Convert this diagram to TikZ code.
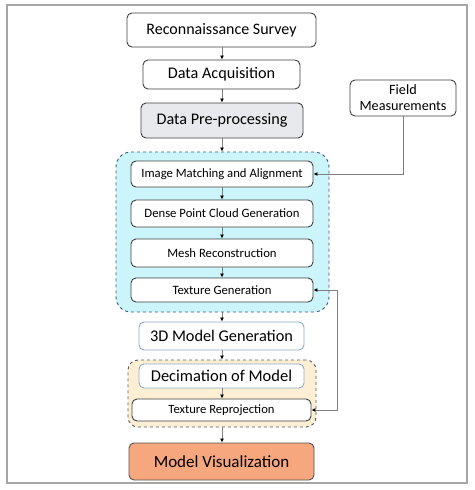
\documentclass[tikz,border=0pt]{standalone}
\usepackage{fontspec}
\setmainfont{Carlito}
\usetikzlibrary{arrows.meta}
\definecolor{framec}{HTML}{A6A6A6}
\definecolor{boxline}{HTML}{404040}
\definecolor{bluebox}{HTML}{8EA9C8}
\definecolor{prefill}{HTML}{E7E9EC}
\definecolor{cyanfill}{HTML}{CBF4FB}
\definecolor{cyanline}{HTML}{3C5A78}
\definecolor{yelfill}{HTML}{FDEFD3}
\definecolor{yelline}{HTML}{5A5A5A}
\definecolor{vizfill}{HTML}{F7A77E}
\definecolor{arrc}{HTML}{7F7F7F}
\tikzset{
  box/.style={draw=boxline, line width=0.9pt, rounded corners=5pt, fill=white, inner sep=0pt, align=center},
  bbox/.style={box, draw=bluebox},
  grp/.style={draw, dashed, line width=0.9pt, rounded corners=15pt, inner sep=0pt},
  arr/.style={draw=arrc, line width=0.8pt, -{Latex[length=4pt,width=4pt,color=black]}},
  darr/.style={draw=arrc, line width=0.8pt, {Latex[length=4pt,width=4pt,color=black]}-{Latex[length=4pt,width=4pt,color=black]}}
}
\begin{document}
\begin{tikzpicture}[x=1pt,y=-1pt]
\useasboundingbox (0,0) rectangle (474,490);
\fill[white] (0,0) rectangle (474,490);
\draw[framec, line width=1.2pt] (7,5) rectangle (467,483);
% groups
\node[grp, draw=cyanline, fill=cyanfill, minimum width=213pt, minimum height=160pt] (g1) at (222.5,232) {};
\node[grp, draw=yelline, fill=yelfill, rounded corners=10pt, minimum width=188pt, minimum height=67pt] (g2) at (222,393.5) {};
% boxes
\node[box, minimum width=189pt, minimum height=34pt, font=\fontsize{16}{18}\selectfont] (rs) at (221.5,30) {Reconnaissance Survey};
\node[box, minimum width=157pt, minimum height=29pt, font=\fontsize{16.2}{18}\selectfont] (da) at (221.5,74.5) {Data Acquisition};
\node[box, fill=prefill, minimum width=162pt, minimum height=35pt, font=\fontsize{16.2}{18}\selectfont] (dp) at (222,120.5) {Data Pre-processing};
\node[box, minimum width=106pt, minimum height=36pt, font=\fontsize{14.2}{16}\selectfont] (fm) at (403,98) {Field\\Measurements};
\node[box, minimum width=182pt, minimum height=26pt, font=\fontsize{12.7}{14}\selectfont] (im) at (222,174) {Image Matching and Alignment};
\node[box, minimum width=182pt, minimum height=27pt, font=\fontsize{12.7}{14}\selectfont] (dpc) at (222,213.5) {Dense Point Cloud Generation};
\node[box, minimum width=182pt, minimum height=28pt, font=\fontsize{12.7}{14}\selectfont] (mr) at (222,253) {Mesh Reconstruction};
\node[box, minimum width=182pt, minimum height=24pt, font=\fontsize{12.7}{14}\selectfont] (tg) at (222,290) {Texture Generation};
\node[bbox, minimum width=165pt, minimum height=28pt, font=\fontsize{16.3}{18}\selectfont] (m3) at (221.5,336) {3D Model Generation};
\node[bbox, minimum width=165pt, minimum height=24pt, font=\fontsize{16.5}{18}\selectfont] (dm) at (221.5,376) {Decimation of Model};
\node[box, minimum width=179pt, minimum height=22pt, font=\fontsize{12.6}{14}\selectfont] (tr) at (221.5,410) {Texture Reprojection};
\node[box, fill=vizfill, draw=boxline!90, minimum width=185pt, minimum height=37pt, font=\fontsize{17}{19}\selectfont] (mv) at (221.5,461.5) {Model Visualization};
% connectors
\draw[arr] (rs.south -| 222,0) -- (da.north -| 222,0);
\draw[arr] (da.south -| 222,0) -- (dp.north -| 222,0);
\draw[arr] (dp.south -| 222,0) -- (g1.north -| 222,0);
\draw[arr] (im) -- (dpc);
\draw[arr] (dpc) -- (mr);
\draw[arr] (mr) -- (tg);
\draw[arr] (g1.south -| 222,0) -- (m3.north -| 222,0);
\draw[arr] (m3.south -| 222,0) -- (g2.north -| 222,0);
\draw[arr] (dm.south -| 222,0) -- (tr.north -| 222,0);
\draw[arr] (g2.south -| 222,0) -- (mv.north -| 222,0);
\draw[arr] (fm.south) |- (im.east);
\coordinate (fb) at (337,290);
\draw[darr] (tg.east) -- (fb) |- (tr.east);
\end{tikzpicture}
\end{document}
